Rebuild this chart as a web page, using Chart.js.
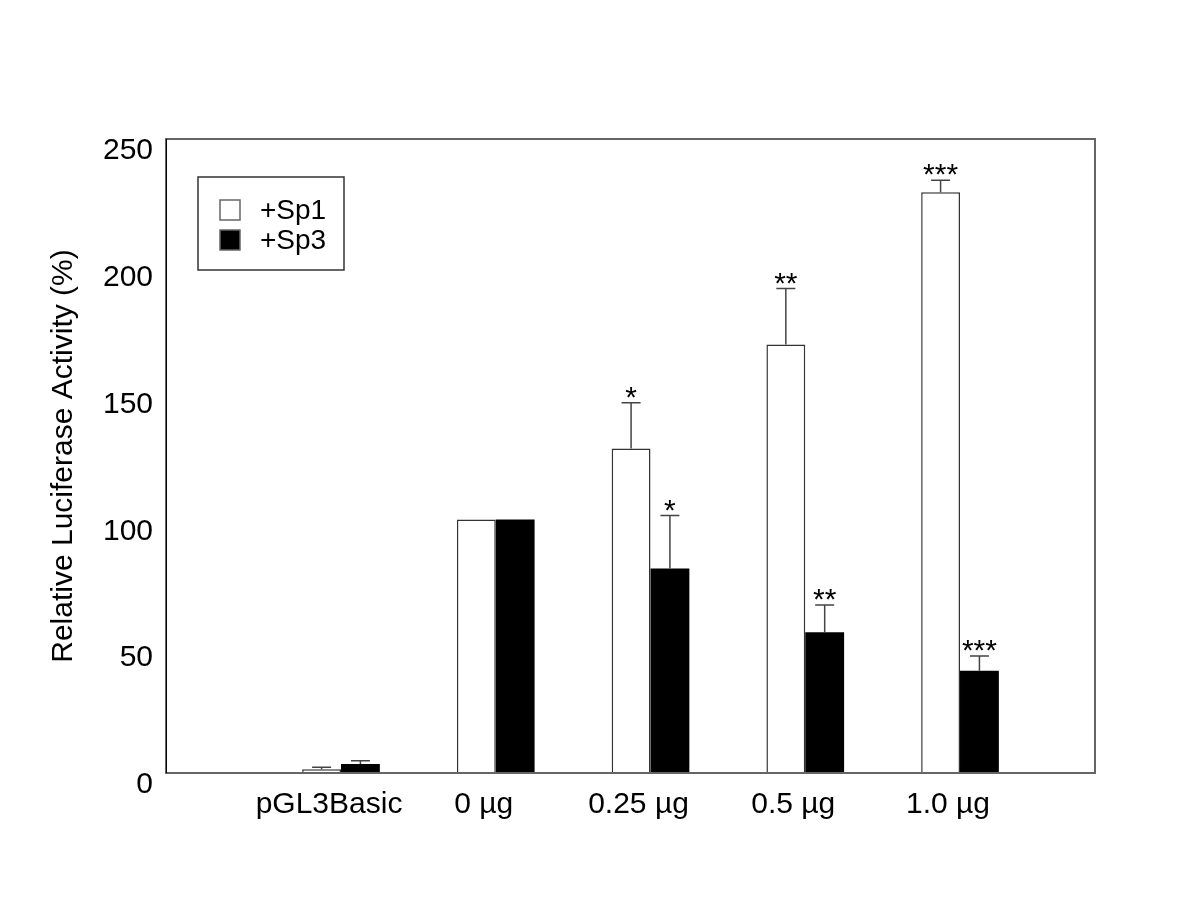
<!DOCTYPE html>
<html>
<head>
<meta charset="utf-8">
<script src="https://cdn.jsdelivr.net/npm/chart.js@4.4.0/dist/chart.umd.min.js"></script>
<style>
  html, body { margin: 0; padding: 0; background: #fff; }
  #wrap { width: 1200px; height: 900px; }
</style>
</head>
<body>
<div id="wrap"><canvas id="barChart" width="1200" height="900"></canvas></div>
<script>
const categories = ["pGL3Basic", "0 \u00b5g", "0.25 \u00b5g", "0.5 \u00b5g", "1.0 \u00b5g"];
const sp1 = [1.5, 100, 128, 169, 229];
const sp1Err = [0.8, 0, 18, 22, 4.7];
const sp3 = [3.5, 100, 80.6, 55.5, 40.3];
const sp3Err = [1.3, 0, 20.9, 10.7, 5.8];
const sp1Stars = ["", "", "*", "**", "***"];
const sp3Stars = ["", "", "*", "**", "***"];
const yTicks = [0, 50, 100, 150, 200, 250];

Chart.defaults.font.family = '"Liberation Sans", Arial, sans-serif';
Chart.defaults.color = "#000";

const errs = [sp1Err, sp3Err];
const stars = [sp1Stars, sp3Stars];

// error bars (upper only) + significance stars
const errorBars = {
	id: "errorBars",
	afterDatasetsDraw(chart) {
		const ctx = chart.ctx;
		const y = chart.scales.y;
		ctx.save();
		chart.data.datasets.forEach((ds, di) => {
			const meta = chart.getDatasetMeta(di);
			meta.data.forEach((bar, i) => {
				const v = ds.data[i].y;
				const e = errs[di][i];
				const yTop = y.getPixelForValue(v + e);
				if (e > 0) {
					ctx.strokeStyle = "#444";
					ctx.lineWidth = 1.5;
					ctx.beginPath();
					ctx.moveTo(bar.x, bar.y);
					ctx.lineTo(bar.x, yTop);
					ctx.moveTo(bar.x - 9.5, yTop);
					ctx.lineTo(bar.x + 9.5, yTop);
					ctx.stroke();
				}
				if (stars[di][i]) {
					ctx.fillStyle = "#000";
					ctx.font = '30px "Liberation Sans", Arial, sans-serif';
					ctx.textAlign = "center";
					ctx.textBaseline = "alphabetic";
					ctx.fillText(stars[di][i], bar.x, yTop + 4);
				}
			});
		});
		ctx.restore();
	},
};

// box around the plot + legend box
const frameAndLegend = {
	id: "frameAndLegend",
	afterDraw(chart) {
		const ctx = chart.ctx;
		const a = chart.chartArea;
		ctx.save();
		ctx.strokeStyle = "#666";
		ctx.lineWidth = 2;
		ctx.strokeRect(a.left, a.top, a.right - a.left, a.bottom - a.top);
		ctx.strokeStyle = "#000";
		ctx.lineWidth = 1;
		ctx.beginPath();
		ctx.moveTo(a.left + 0.5, a.top);
		ctx.lineTo(a.left + 0.5, a.bottom);
		ctx.stroke();

		// legend
		const lx = a.left + 32, ly = a.top + 38, lw = 146, lh = 93;
		ctx.strokeStyle = "#333";
		ctx.lineWidth = 1.5;
		ctx.strokeRect(lx, ly, lw, lh);
		ctx.font = '28px "Liberation Sans", Arial, sans-serif';
		ctx.textAlign = "left";
		ctx.textBaseline = "middle";
		chart.data.datasets.forEach((ds, i) => {
			const sy = ly + 23 + i * 30;
			ctx.fillStyle = ds.backgroundColor;
			ctx.fillRect(lx + 22, sy, 20, 20);
			ctx.strokeStyle = "#666";
			ctx.lineWidth = 1.5;
			ctx.strokeRect(lx + 22, sy, 20, 20);
			ctx.fillStyle = "#000";
			ctx.fillText(ds.label, lx + 62, sy + 11);
		});
		ctx.restore();
	},
};

const data1 = {
	datasets: [
		{
			label: "+Sp1",
			data: sp1.map((v, i) => ({ x: i + 1, y: v })),
			backgroundColor: "#ffffff",
			borderColor: "#333",
			borderWidth: 1.5,
		},
		{
			label: "+Sp3",
			data: sp3.map((v, i) => ({ x: i + 1, y: v })),
			backgroundColor: "#000000",
			borderColor: "#000",
			borderWidth: 0,
		},
	],
};

const config1 = {
	type: "bar",
	data: data1,
	options: {
		responsive: false,
		animation: false,
		layout: { padding: { top: 139, right: 105, left: 0, bottom: 0 } },
		categoryPercentage: 0.502,
		barPercentage: 1,
		plugins: {
			legend: { display: false },
			tooltip: { enabled: false },
		},
		scales: {
			x: {
				type: "linear",
				offset: false,
				min: -0.1309,
				max: 5.8723,
				grid: { display: false, drawTicks: false, offset: false },
				border: { display: false },
				afterBuildTicks: (scale) => {
					scale.ticks = categories.map((c, i) => ({ value: i + 1 }));
				},
				afterFit: (scale) => { scale.height = 127; },
				ticks: {
					font: { size: 30 },
					padding: 14,
					labelOffset: -12,
					maxRotation: 0,
					autoSkip: false,
					callback: (v) => categories[Math.round(v) - 1],
				},
			},
			y: {
				min: 0,
				max: 250,
				grid: { display: false, drawTicks: false },
				border: { display: false },
				afterBuildTicks: (scale) => {
					scale.ticks = yTicks.map((v) => ({ value: v }));
				},
				afterFit: (scale) => { scale.width = 166; },
				ticks: {
					font: { size: 30 },
					padding: 13,
					labelOffset: 12,
				},
				title: {
					display: true,
					text: "Relative Luciferase Activity (%)",
					font: { size: 30 },
					padding: { top: 46, bottom: 0 },
				},
			},
		},
	},
	plugins: [errorBars, frameAndLegend],
};

const ctx1 = document.getElementById("barChart").getContext("2d");
const barChart = new Chart(ctx1, config1);
</script>
</body>
</html>
